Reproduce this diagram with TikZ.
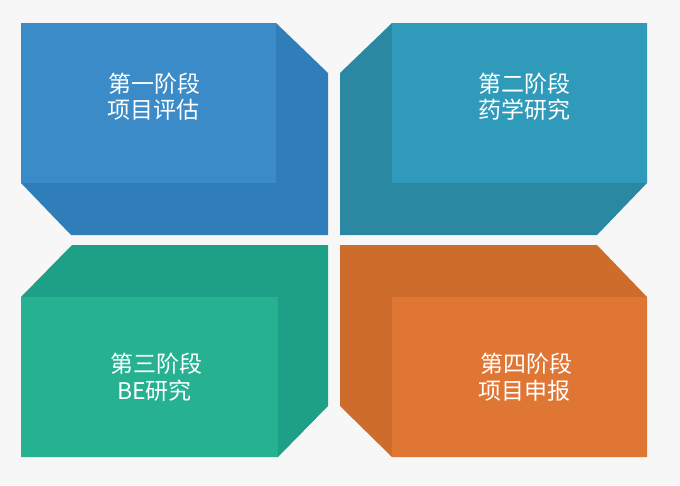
\documentclass[tikz,border=0pt]{standalone}
\usepackage{fontspec}
\newfontfamily\cjk{Noto Sans CJK SC}
\definecolor{bg}{HTML}{F7F7F7}
\definecolor{blueF}{HTML}{3A8BC8}
\definecolor{blueS}{HTML}{2F7EB9}
\definecolor{tealF}{HTML}{2F9AB9}
\definecolor{tealS}{HTML}{2B88A3}
\definecolor{greenF}{HTML}{26B191}
\definecolor{greenS}{HTML}{1EA087}
\definecolor{orangeF}{HTML}{E07634}
\definecolor{orangeS}{HTML}{CE6C2C}
\tikzset{
  lbl/.style={anchor=west, inner sep=0pt, text=white, font=\cjk\fontsize{23}{26}\selectfont}
}
\begin{document}
\begin{tikzpicture}[x=1pt,y=-1pt]
\useasboundingbox (0,0) rectangle (680,485);
\fill[bg] (0,0) rectangle (680,485);
% box 1
\fill[blueS] (21,23)--(276,23)--(328,73)--(328,235)--(71,235)--(21,183)--cycle;
\fill[blueF] (21,23) rectangle (276,183);
% box 2
\fill[tealS] (340,73)--(392,23)--(647,23)--(647,183)--(597,235)--(340,235)--cycle;
\fill[tealF] (392,23) rectangle (647,183);
% box 3
\fill[greenS] (21,297)--(72,245)--(328,245)--(328,406)--(278,457)--(21,457)--cycle;
\fill[greenF] (21,297) rectangle (278,457);
% box 4
\fill[orangeS] (340,245)--(597,245)--(647,297)--(647,457)--(392,457)--(340,406)--cycle;
\fill[orangeF] (392,297) rectangle (647,457);
% labels
\node[lbl] (t1a) at (108,84) {第一阶段};
\node[lbl] (t1b) at (107,110) {项目评估};
\node[lbl] (t2a) at (478,84) {第二阶段};
\node[lbl] (t2b) at (478,110) {药学研究};
\node[lbl] (t3a) at (110,364) {第三阶段};
\node[lbl] (t3b) at (117,391) {BE研究};
\node[lbl] (t4a) at (480,364) {第四阶段};
\node[lbl] (t4b) at (478,391) {项目申报};
\end{tikzpicture}
\end{document}
